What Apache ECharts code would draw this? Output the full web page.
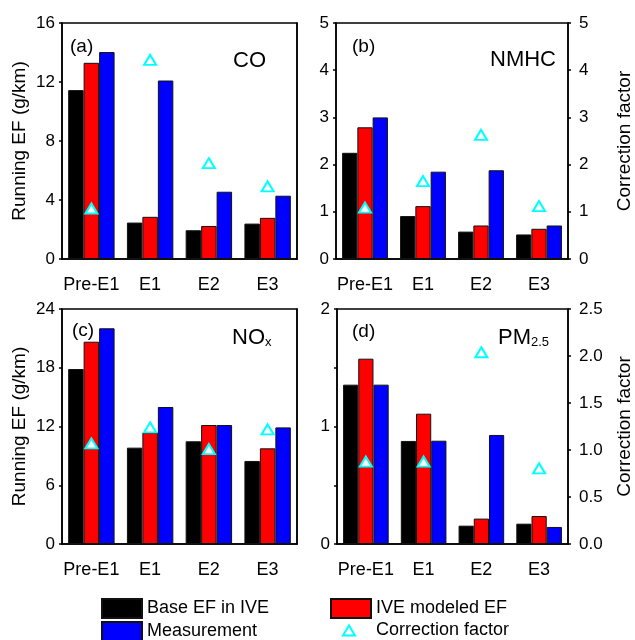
<!DOCTYPE html>
<html>
<head>
<meta charset="utf-8">
<script src="https://cdn.jsdelivr.net/npm/echarts@6/dist/echarts.min.js"></script>
<style>
  html, body { margin: 0; padding: 0; background: #fff; }
  #chart { width: 635px; height: 640px; }
</style>
</head>
<body>
<div id="chart"></div>
<script>
// Running emission factors per control stage (g/km) and correction factors
const categories = ['Pre-E1', 'E1', 'E2', 'E3'];

const coBase      = [11.45, 2.47, 1.95, 2.40];
const coModeled   = [13.30, 2.86, 2.24, 2.79];
const coMeasured  = [14.03, 12.10, 4.56, 4.29];
const coFactor    = [1.07, 4.22, 2.03, 1.54];

const hcBase      = [2.25, 0.91, 0.58, 0.52];
const hcModeled   = [2.79, 1.12, 0.71, 0.64];
const hcMeasured  = [3.00, 1.85, 1.88, 0.71];
const hcFactor    = [1.09, 1.65, 2.63, 1.12];

const noxBase     = [17.87, 9.84, 10.49, 8.48];
const noxModeled  = [20.66, 11.40, 12.15, 9.77];
const noxMeasured = [22.03, 13.99, 12.15, 11.91];
const noxFactor   = [1.07, 1.24, 1.01, 1.22];

const pmBase      = [1.356, 0.877, 0.156, 0.173];
const pmModeled   = [1.577, 1.109, 0.216, 0.238];
const pmMeasured  = [1.356, 0.879, 0.928, 0.145];
const pmFactor    = [0.876, 0.876, 2.04, 0.805];

const seriesNames = ['Base EF in IVE', 'IVE modeled EF', 'Measurement', 'Correction factor'];
const barColors = ['#000000', '#ff0000', '#0000ff'];

const FONT = 'Liberation Sans, Arial, Helvetica, sans-serif';

// panel layout: grid rect, left axis range, right axis range, which labels show
const panels = [
  { grid: { left: 62,  top: 23,  width: 235, height: 236 }, data: [coBase, coModeled, coMeasured, coFactor],
    yMax: 16, yInt: 4, rMax: 5, rInt: 1, leftName: true, rightLabels: false },
  { grid: { left: 336, top: 23,  width: 234, height: 236 }, data: [hcBase, hcModeled, hcMeasured, hcFactor],
    yMax: 5, yInt: 1, rMax: 5, rInt: 1, leftName: false, rightLabels: true },
  { grid: { left: 62,  top: 309, width: 235, height: 235 }, data: [noxBase, noxModeled, noxMeasured, noxFactor],
    yMax: 24, yInt: 6, rMax: 2.5, rInt: 0.5, leftName: true, rightLabels: false },
  { grid: { left: 337, top: 309, width: 233, height: 235 }, data: [pmBase, pmModeled, pmMeasured, pmFactor],
    yMax: 2, yInt: 0.5, rMax: 2.5, rInt: 0.5, leftName: false, rightLabels: true, halfTicks: true }
];

const grids = [], xAxes = [], yAxes = [], series = [];

panels.forEach((p, i) => {
  grids.push(Object.assign({ show: true, borderColor: '#000', borderWidth: 1.5, backgroundColor: 'transparent' }, p.grid));

  xAxes.push({
    type: 'category', gridIndex: i, data: categories,
    axisLine: { lineStyle: { color: '#000', width: 1.5 } },
    axisTick: { show: false },
    axisLabel: { color: '#000', fontSize: 18, fontFamily: FONT, margin: 17, interval: 0 }
  });

  yAxes.push({
    type: 'value', gridIndex: i, position: 'left', min: 0, max: p.yMax, interval: p.yInt,
    name: p.leftName ? 'Running EF (g/km)' : '',
    nameLocation: 'middle', nameGap: 33,
    nameTextStyle: { color: '#000', fontSize: 19, fontFamily: FONT },
    axisLine: { show: true, lineStyle: { color: '#000', width: 1.5 } },
    axisTick: { show: true, inside: false, length: 3, lineStyle: { color: '#000', width: 1.5 } },
    axisLabel: {
      color: '#000', fontSize: 17, fontFamily: FONT, margin: 7,
      formatter: v => (p.halfTicks ? (Number.isInteger(v) ? String(v) : '') : String(v))
    },
    splitLine: { show: false }
  });

  yAxes.push({
    type: 'value', gridIndex: i, position: 'right', min: 0, max: p.rMax, interval: p.rInt,
    name: p.rightLabels ? 'Correction factor' : '',
    nameLocation: 'middle', nameGap: 47,
    nameTextStyle: { color: '#000', fontSize: 19, fontFamily: FONT },
    axisLine: { show: true, lineStyle: { color: '#000', width: 1.5 } },
    axisTick: { show: p.rightLabels, inside: false, length: 3, lineStyle: { color: '#000', width: 1.5 } },
    axisLabel: {
      show: p.rightLabels, color: '#000', fontSize: 17, fontFamily: FONT, margin: 11,
      formatter: v => (p.rInt < 1 ? v.toFixed(1) : String(v))
    },
    splitLine: { show: false }
  });

  for (let k = 0; k < 3; k++) {
    series.push({
      type: 'bar', name: seriesNames[k], xAxisIndex: i, yAxisIndex: 2 * i,
      data: p.data[k],
      barGap: '0%', barCategoryGap: '21%',
      itemStyle: { color: barColors[k], borderColor: '#111', borderWidth: 1 },
      emphasis: { disabled: true }
    });
  }
  series.push({
    type: 'scatter', name: seriesNames[3], xAxisIndex: i, yAxisIndex: 2 * i + 1,
    data: p.data[3], z: 5,
    symbol: 'triangle', symbolSize: [12, 10],
    itemStyle: { color: '#ffffff', borderColor: '#00ffff', borderWidth: 2, opacity: 1 },
    emphasis: { disabled: true }
  });
});

// one legend per entry, arranged in two columns
function legendItem(name, left, top, w, h, icon, textPadLeft) {
  return {
    left: left, top: top, orient: 'vertical', itemWidth: w, itemHeight: h, itemGap: 0,
    padding: 0,
    data: [{ name: name, icon: icon }],
    selectedMode: false,
    textStyle: { color: '#000', fontSize: 18, fontFamily: FONT, lineHeight: 19, padding: [0, 0, 0, textPadLeft || 0] }
  };
}
const legends = [
  legendItem('Base EF in IVE', 101, 598, 40, 19, 'rect'),
  legendItem('Measurement', 101, 621, 40, 19, 'rect'),
  legendItem('IVE modeled EF', 330, 598, 40, 19, 'rect'),
  legendItem('Correction factor', 342, 621, 12, 10, 'triangle', 16)
];

// panel tags and pollutant names
function label(text, x, y, size) {
  return {
    type: 'text', left: x, top: y,
    style: { text: text, fill: '#000', fontSize: size, fontFamily: FONT }
  };
}
const subRich = {
  m: { fontSize: 22, fontFamily: FONT, fill: '#000', verticalAlign: 'bottom', lineHeight: 24 },
  s: { fontSize: 13, fontFamily: FONT, fill: '#000', verticalAlign: 'bottom', lineHeight: 18 }
};

const graphics = [
  label('(a)', 70, 37, 19),
  label('CO', 233, 50, 22),
  label('(b)', 352, 37, 19),
  label('NMHC', 490, 49, 22),
  label('(c)', 72, 321, 19),
  { type: 'text', left: 232, top: 327, style: { text: '{m|NO}{s|x}', rich: subRich } },
  label('(d)', 352, 322, 19),
  { type: 'text', left: 498, top: 327, style: { text: '{m|PM}{s|2.5}', rich: subRich } }
];

const chart = echarts.init(document.getElementById('chart'), null, { renderer: 'canvas' });
chart.setOption({
  animation: false,
  backgroundColor: '#fff',
  textStyle: { fontFamily: FONT },
  grid: grids,
  xAxis: xAxes,
  yAxis: yAxes,
  legend: legends,
  series: series,
  graphic: graphics
});
</script>
</body>
</html>
